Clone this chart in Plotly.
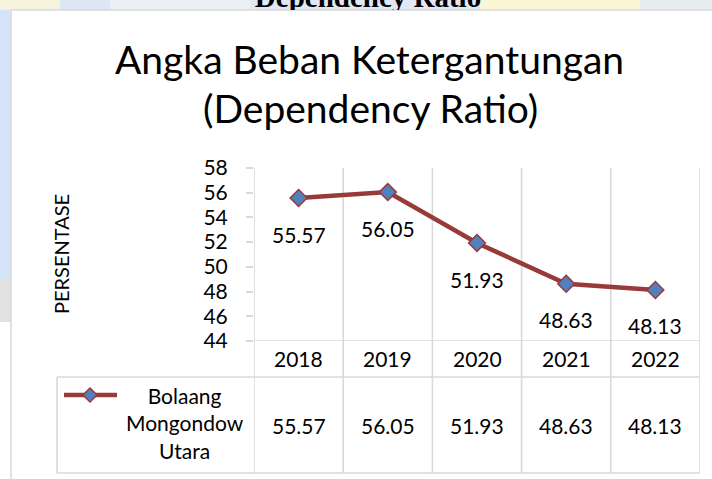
import plotly.graph_objects as go

# ---- data ----
years = ["2018", "2019", "2020", "2021", "2022"]
values = [55.57, 56.05, 51.93, 48.63, 48.13]
series_name = "Bolaang<br>Mongondow<br>Utara"
y_ticks = [44, 46, 48, 50, 52, 54, 56, 58]
title_line1 = "Angka Beban Ketergantungan"
title_line2 = "(Dependency Ratio)"
y_title = "PERSENTASE"
top_text = "Dependency Ratio"

W, H = 712, 479
def px(x):
    return x / W
def py(y):
    return 1 - y / H

FONT = "Lato"
LINE_COLOR = "#983a37"
MARK_COLOR = "#4f81bd"
GRID = "#d9d9d9"

fig = go.Figure()

fig.add_trace(go.Scatter(
    x=years, y=values, mode="lines+markers",
    line=dict(color=LINE_COLOR, width=4.5),
    marker=dict(symbol="diamond", size=13, color=MARK_COLOR,
                line=dict(color=LINE_COLOR, width=1.5)),
    showlegend=False, hoverinfo="skip", xaxis="x", yaxis="y"))

# clipped bold heading at the very top (partly hidden behind the white panel)
fig.add_trace(go.Scatter(
    x=[px(368)], y=[10.6], mode="text", text=["<b>" + top_text + "</b>"],
    textposition="middle center",
    textfont=dict(family="Liberation Serif", size=29, color="#000000"),
    cliponaxis=True, showlegend=False, hoverinfo="skip",
    xaxis="x2", yaxis="y2"))

shapes = []
# background strips
top_cols = [(0, 60, "#f5f3dc"), (60, 110, "#dde6f5"), (110, 250, "#eceff3"),
            (250, 480, "#e1e7f3"), (480, 640, "#fbf7d6"), (640, 712, "#e8edf0")]
for a, b, c in top_cols:
    shapes.append(dict(type="rect", xref="paper", yref="paper", x0=px(a), x1=px(b),
                       y0=py(10), y1=1, fillcolor=c, line=dict(width=0), layer="below"))
shapes.append(dict(type="rect", xref="paper", yref="paper", x0=0, x1=px(11),
                   y0=py(280), y1=py(10), fillcolor="#d5e3fa", line=dict(width=0), layer="below"))
shapes.append(dict(type="rect", xref="paper", yref="paper", x0=0, x1=px(11),
                   y0=py(322), y1=py(280), fillcolor="#e3e1df", line=dict(width=0), layer="below"))
# white panel
shapes.append(dict(type="rect", xref="paper", yref="paper", x0=px(11), x1=1.02,
                   y0=-0.02, y1=py(10), fillcolor="#ffffff",
                   line=dict(color=GRID, width=1.5), layer="below"))
# vertical category / table lines
for i in range(len(years) + 1):
    shapes.append(dict(type="line", xref="x", yref="paper", x0=i - 0.5, x1=i - 0.5,
                       y0=py(473), y1=py(168), line=dict(color=GRID, width=1.6), layer="below"))
# horizontal axis line at bottom of plot
shapes.append(dict(type="line", xref="x", yref="y", x0=-0.5, x1=len(years) - 0.5,
                   y0=y_ticks[0], y1=y_ticks[0], line=dict(color=GRID, width=1.6), layer="below"))
# table row lines
for yy in (377, 473):
    shapes.append(dict(type="line", xref="paper", yref="paper", x0=px(57), x1=px(700),
                       y0=py(yy), y1=py(yy), line=dict(color=GRID, width=1.6), layer="below"))
shapes.append(dict(type="line", xref="paper", yref="paper", x0=px(57), x1=px(57),
                   y0=py(473), y1=py(377), line=dict(color=GRID, width=1.6), layer="below"))
# legend key
shapes.append(dict(type="line", xref="paper", yref="paper", x0=px(64), x1=px(117),
                   y0=py(395), y1=py(395), line=dict(color=LINE_COLOR, width=4.5)))
cx, cy, r = 90, 395, 7
shapes.append(dict(type="path", xref="paper", yref="paper",
                   path=f"M {px(cx-r)} {py(cy)} L {px(cx)} {py(cy-r)} L {px(cx+r)} {py(cy)} L {px(cx)} {py(cy+r)} Z",
                   fillcolor=MARK_COLOR, line=dict(color=LINE_COLOR, width=1.5)))

ann = []
tf = dict(family=FONT, size=21, color="#000000")
C = dict(showarrow=False, xanchor="center", yanchor="middle")
ann.append(dict(text=title_line1, x=px(369), y=py(59), xref="paper", yref="paper",
                font=dict(family=FONT, size=39, color="#000000"), **C))
ann.append(dict(text=title_line2, x=px(370), y=py(108), xref="paper", yref="paper",
                font=dict(family=FONT, size=39, color="#000000"), **C))
ann.append(dict(text=y_title, x=px(61), y=py(254), xref="paper", yref="paper",
                textangle=-90, font=dict(family=FONT, size=20, color="#000000"), **C))
for i, (yr, v) in enumerate(zip(years, values)):
    ann.append(dict(text=f"{v:.2f}", x=i, y=v, xref="x", yref="y", yshift=-36,
                    font=tf, **C))
    ann.append(dict(text=yr, x=i, y=py(358), xref="x", yref="paper",
                    font=tf, **C))
    ann.append(dict(text=f"{v:.2f}", x=i, y=py(425), xref="x", yref="paper",
                    font=tf, **C))
ann.append(dict(text=series_name, x=px(185), y=py(423), xref="paper", yref="paper",
                font=tf, align="center", **C))

fig.update_layout(
    width=W, height=H, margin=dict(l=0, r=0, t=0, b=0, pad=0, autoexpand=False),
    paper_bgcolor="#ffffff", plot_bgcolor="rgba(0,0,0,0)",
    showlegend=False, shapes=shapes, annotations=ann,
    xaxis=dict(domain=[px(254), px(700)], type="category", range=[-0.5, 4.5],
               showticklabels=False, showgrid=False, zeroline=False, showline=False,
               ticks="", fixedrange=True, automargin=False),
    yaxis=dict(domain=[py(341), py(168)], range=[y_ticks[0], y_ticks[-1]],
               tickvals=y_ticks, ticks="outside", ticklen=7, tickcolor=GRID, tickwidth=1.6,
               ticklabelstandoff=14, tickfont=tf, showgrid=False, zeroline=False,
               showline=False, fixedrange=True, automargin=False),
    xaxis2=dict(domain=[0, 1], range=[0, 1], visible=False, anchor="y2",
                fixedrange=True, automargin=False),
    yaxis2=dict(domain=[py(10), 1], range=[0, 10], visible=False, anchor="x2",
                fixedrange=True, automargin=False),
)

fig.write_html("out.html", config={"displayModeBar": False},
               post_script="document.body.style.margin='0px';")
